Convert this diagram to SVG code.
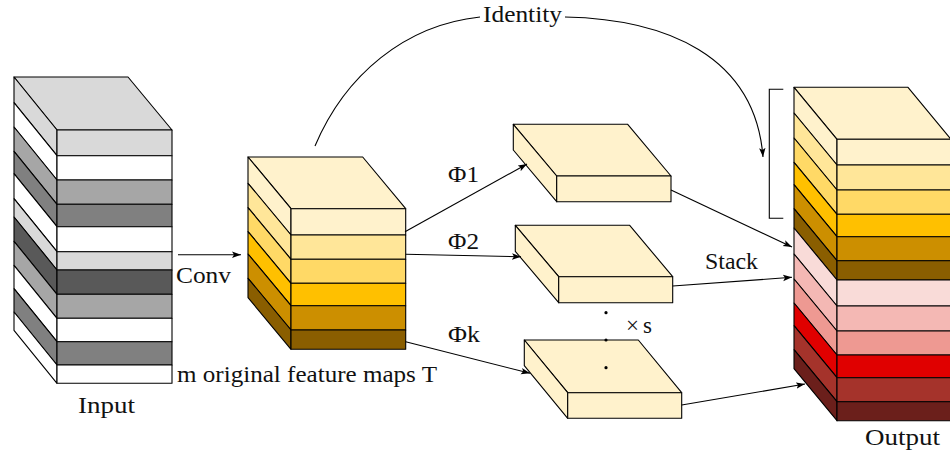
<svg xmlns="http://www.w3.org/2000/svg" width="950" height="453" viewBox="0 0 950 453">
<defs>
<marker id="ah" markerUnits="userSpaceOnUse" markerWidth="10" markerHeight="8" refX="9" refY="4" orient="auto">
<path d="M0,0.8 L9,4 L0,7.2 L2,4 z" fill="#000"/>
</marker>
</defs>
<style>
.f{stroke:#000;stroke-width:1.1;stroke-linejoin:round}
.t{font-family:"Liberation Serif","Times New Roman",serif;font-size:23px;fill:#111}
.c{fill:none;stroke:#000;stroke-width:1.1}
.a{fill:none;stroke:#000;stroke-width:1.1;marker-end:url(#ah)}
</style>
<rect width="950" height="453" fill="#fff"/>

<g id="input">
<polygon class="f" fill="#d9d9d9" points="14,77 128,77 172,130 57,130"/>
<polygon class="f" fill="#d9d9d9" points="14,77 57,130 57,155.7 14,102.7"/>
<polygon class="f" fill="#ffffff" points="14,102.7 57,155.7 57,180 14,127"/>
<polygon class="f" fill="#a6a6a6" points="14,127 57,180 57,204.3 14,151.3"/>
<polygon class="f" fill="#808080" points="14,151.3 57,204.3 57,226.7 14,173.7"/>
<polygon class="f" fill="#ffffff" points="14,173.7 57,226.7 57,251.7 14,198.7"/>
<polygon class="f" fill="#d9d9d9" points="14,198.7 57,251.7 57,270 14,217"/>
<polygon class="f" fill="#595959" points="14,217 57,270 57,294.3 14,241.3"/>
<polygon class="f" fill="#a6a6a6" points="14,241.3 57,294.3 57,318.3 14,265.3"/>
<polygon class="f" fill="#ffffff" points="14,265.3 57,318.3 57,341.7 14,288.7"/>
<polygon class="f" fill="#808080" points="14,288.7 57,341.7 57,365 14,312"/>
<polygon class="f" fill="#ffffff" points="14,312 57,365 57,383.3 14,330.3"/>
<rect class="f" fill="#d9d9d9" x="57" y="130" width="115" height="25.7"/>
<rect class="f" fill="#ffffff" x="57" y="155.7" width="115" height="24.3"/>
<rect class="f" fill="#a6a6a6" x="57" y="180" width="115" height="24.3"/>
<rect class="f" fill="#808080" x="57" y="204.3" width="115" height="22.4"/>
<rect class="f" fill="#ffffff" x="57" y="226.7" width="115" height="25"/>
<rect class="f" fill="#d9d9d9" x="57" y="251.7" width="115" height="18.3"/>
<rect class="f" fill="#595959" x="57" y="270" width="115" height="24.3"/>
<rect class="f" fill="#a6a6a6" x="57" y="294.3" width="115" height="24"/>
<rect class="f" fill="#ffffff" x="57" y="318.3" width="115" height="23.4"/>
<rect class="f" fill="#808080" x="57" y="341.7" width="115" height="23.3"/>
<rect class="f" fill="#ffffff" x="57" y="365" width="115" height="18.3"/>
<text class="t" x="78" y="413" textLength="57" lengthAdjust="spacingAndGlyphs">Input</text>
</g>

<g id="features">
<polygon class="f" fill="#fff2cc" points="248,157 362.7,157 405.7,208.7 291,208.7"/>
<polygon class="f" fill="#fff2cc" points="248,157 291,208.7 291,235 248,183.3"/>
<polygon class="f" fill="#ffe699" points="248,183.3 291,235 291,259.3 248,207.6"/>
<polygon class="f" fill="#ffd966" points="248,207.6 291,259.3 291,283.3 248,231.6"/>
<polygon class="f" fill="#ffc000" points="248,231.6 291,283.3 291,305.7 248,254"/>
<polygon class="f" fill="#cc8f00" points="248,254 291,305.7 291,330 248,278.3"/>
<polygon class="f" fill="#8a5e00" points="248,278.3 291,330 291,349.3 248,297.6"/>
<rect class="f" fill="#fff2cc" x="291" y="208.7" width="114.7" height="26.3"/>
<rect class="f" fill="#ffe699" x="291" y="235" width="114.7" height="24.3"/>
<rect class="f" fill="#ffd966" x="291" y="259.3" width="114.7" height="24"/>
<rect class="f" fill="#ffc000" x="291" y="283.3" width="114.7" height="22.4"/>
<rect class="f" fill="#cc8f00" x="291" y="305.7" width="114.7" height="24.3"/>
<rect class="f" fill="#8a5e00" x="291" y="330" width="114.7" height="19.3"/>
<text class="t" x="177" y="382" textLength="260" lengthAdjust="spacingAndGlyphs">m original feature maps T</text>
</g>

<g id="phi1">
<polygon class="f" fill="#fff2cc" points="513.3,124.3 627.7,124.3 671,176 556.7,176"/>
<polygon class="f" fill="#fff2cc" points="513.3,124.3 556.7,176 556.7,201.7 513.3,150"/>
<rect class="f" fill="#fff2cc" x="556.7" y="176" width="114.3" height="25.7"/>
</g>

<g id="phi2">
<polygon class="f" fill="#fff2cc" points="515.3,225.3 629.7,225.3 672.7,276.7 558.7,276.7"/>
<polygon class="f" fill="#fff2cc" points="515.3,225.3 558.7,276.7 558.7,302.7 515.3,251.3"/>
<rect class="f" fill="#fff2cc" x="558.7" y="276.7" width="114" height="26"/>
</g>

<g id="phik">
<polygon class="f" fill="#fff2cc" points="524.3,340 638.3,340 681.7,392.7 567.7,392.7"/>
<polygon class="f" fill="#fff2cc" points="524.3,340 567.7,392.7 567.7,418.3 524.3,365.6"/>
<rect class="f" fill="#fff2cc" x="567.7" y="392.7" width="114" height="25.6"/>
</g>

<g id="dots">
<circle cx="606" cy="312.7" r="1.6" fill="#000"/>
<circle cx="606" cy="340" r="1.6" fill="#000"/>
<circle cx="606" cy="367.7" r="1.6" fill="#000"/>
<text class="t" x="626" y="333" textLength="26" lengthAdjust="spacing">× s</text>
</g>

<g id="output">
<polygon class="f" fill="#fff2cc" points="794,87.3 908,87.3 951,139.3 837,139.3"/>
<polygon class="f" fill="#fff2cc" points="794,87.3 837,139.3 837,165 794,113"/>
<polygon class="f" fill="#ffe699" points="794,113 837,165 837,190 794,138"/>
<polygon class="f" fill="#ffd966" points="794,138 837,190 837,214.3 794,162.3"/>
<polygon class="f" fill="#ffc000" points="794,162.3 837,214.3 837,236.7 794,184.7"/>
<polygon class="f" fill="#cc8f00" points="794,184.7 837,236.7 837,260.7 794,208.7"/>
<polygon class="f" fill="#8a5e00" points="794,208.7 837,260.7 837,280 794,228"/>
<polygon class="f" fill="#f9dbd8" points="794,228 837,280 837,306 794,254"/>
<polygon class="f" fill="#f4b8b4" points="794,254 837,306 837,331 794,279"/>
<polygon class="f" fill="#ee9992" points="794,279 837,331 837,355 794,303"/>
<polygon class="f" fill="#e00000" points="794,303 837,355 837,377.7 794,325.7"/>
<polygon class="f" fill="#a5332b" points="794,325.7 837,377.7 837,401.7 794,349.7"/>
<polygon class="f" fill="#6b1f1b" points="794,349.7 837,401.7 837,420.7 794,368.7"/>
<rect class="f" fill="#fff2cc" x="837" y="139.3" width="120" height="25.7"/>
<rect class="f" fill="#ffe699" x="837" y="165" width="120" height="25"/>
<rect class="f" fill="#ffd966" x="837" y="190" width="120" height="24.3"/>
<rect class="f" fill="#ffc000" x="837" y="214.3" width="120" height="22.4"/>
<rect class="f" fill="#cc8f00" x="837" y="236.7" width="120" height="24"/>
<rect class="f" fill="#8a5e00" x="837" y="260.7" width="120" height="19.3"/>
<rect class="f" fill="#f9dbd8" x="837" y="280" width="120" height="26"/>
<rect class="f" fill="#f4b8b4" x="837" y="306" width="120" height="25"/>
<rect class="f" fill="#ee9992" x="837" y="331" width="120" height="24"/>
<rect class="f" fill="#e00000" x="837" y="355" width="120" height="22.7"/>
<rect class="f" fill="#a5332b" x="837" y="377.7" width="120" height="24"/>
<rect class="f" fill="#6b1f1b" x="837" y="401.7" width="120" height="19"/>
<polyline class="c" points="783.3,89.3 769.3,89.3 769.3,218.3 783.3,218.3"/>
<text class="t" x="865" y="445" textLength="75" lengthAdjust="spacingAndGlyphs">Output</text>
</g>

<g id="connectors">
<line class="a" x1="178" y1="254.7" x2="241" y2="254.7"/>
<text class="t" x="176" y="283" textLength="55" lengthAdjust="spacingAndGlyphs">Conv</text>
<path class="c" d="M315,146 C345,75 405,25 480,17"/>
<path class="a" d="M565,17 C665,19 755,55 763,157"/>
<text class="t" x="483" y="22" textLength="79" lengthAdjust="spacingAndGlyphs">Identity</text>
<line class="a" x1="405" y1="231.7" x2="527" y2="164"/>
<line class="a" x1="405.7" y1="254.3" x2="521" y2="256.7"/>
<line class="a" x1="405.7" y1="341.7" x2="530" y2="373.3"/>
<text class="t" x="448" y="182" textLength="31" lengthAdjust="spacingAndGlyphs">Φ1</text>
<text class="t" x="448" y="248.5" textLength="31" lengthAdjust="spacingAndGlyphs">Φ2</text>
<text class="t" x="448" y="342" textLength="32" lengthAdjust="spacingAndGlyphs">Φk</text>
<line class="a" x1="671" y1="190" x2="792" y2="247"/>
<line class="a" x1="672.7" y1="286" x2="792" y2="277.3"/>
<line class="a" x1="681.7" y1="405" x2="805" y2="384"/>
<text class="t" x="705" y="269" textLength="53" lengthAdjust="spacingAndGlyphs">Stack</text>
</g>
</svg>
